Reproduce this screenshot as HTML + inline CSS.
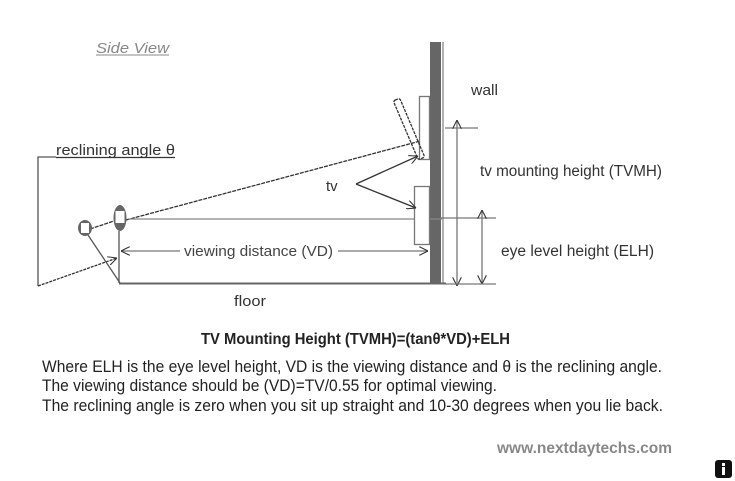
<!DOCTYPE html>
<html><head><meta charset="utf-8"><style>
html,body{margin:0;padding:0;background:#fff;}
svg{display:block;}
text{font-family:"Liberation Sans",sans-serif;}
</style></head><body>
<svg width="735" height="481" viewBox="0 0 735 481" xmlns="http://www.w3.org/2000/svg">
<defs>
<marker id="a" viewBox="0 0 10 10" refX="10" refY="5" markerWidth="9" markerHeight="9" orient="auto-start-reverse" markerUnits="userSpaceOnUse"><path d="M0,0 L10,5 L0,10" fill="none" stroke="#333" stroke-width="1.2"/></marker>
</defs>
<g stroke="#555" stroke-width="1.3" fill="none">
<rect x="430" y="42" width="11" height="242" fill="#666" stroke="none"/>
<line x1="443" y1="42" x2="443" y2="284" stroke="#888"/>
<line x1="119" y1="283.5" x2="446" y2="283.5" stroke="#666" stroke-width="2"/>
<polyline points="56,157 38,157 38,286"/>
<line x1="56" y1="157.5" x2="175" y2="157.5" stroke="#333" stroke-width="1.2"/>
<line x1="38" y1="286" x2="117" y2="258" stroke="#333" stroke-dasharray="3,1" marker-end="url(#a)"/>
<line x1="119" y1="231" x2="119" y2="283"/>
<line x1="88" y1="235" x2="120" y2="283"/>
<line x1="126" y1="220" x2="424" y2="140" stroke="#333" stroke-dasharray="4,1"/>
<line x1="90" y1="229" x2="114" y2="221" stroke="#333" stroke-dasharray="4,1"/>
<line x1="128" y1="219" x2="442" y2="219" stroke="#888"/>
<line x1="121" y1="251" x2="180" y2="251" stroke="#777" marker-start="url(#a)"/>
<line x1="338" y1="251" x2="428" y2="251" stroke="#777" marker-end="url(#a)"/>
<rect x="419.5" y="96.5" width="10" height="63" stroke="#777" fill="#fff"/>
<rect x="414.5" y="186.5" width="15" height="58" stroke="#777" fill="#fff"/>
<g transform="translate(409,129) rotate(-23)">
<rect x="-3.5" y="-32" width="7" height="64" rx="2" stroke="#333" stroke-dasharray="3,1" fill="none"/>
</g>
<line x1="356" y1="184" x2="418" y2="156" stroke="#333" marker-end="url(#a)"/>
<line x1="356" y1="184" x2="416" y2="208" stroke="#333" marker-end="url(#a)"/>
<line x1="445" y1="128" x2="478" y2="128" stroke="#777"/>
<line x1="457" y1="120" x2="457" y2="286" stroke="#777" marker-start="url(#a)" marker-end="url(#a)"/>
<line x1="440" y1="218" x2="496" y2="218" stroke="#777"/>
<line x1="482" y1="210" x2="482" y2="284" stroke="#777" marker-start="url(#a)" marker-end="url(#a)"/>
<line x1="446" y1="284" x2="496" y2="284" stroke="#777"/>
</g>
<ellipse cx="85" cy="228" rx="7" ry="8" fill="#666"/>
<rect x="80.5" y="222.5" width="9" height="11" fill="#fff" stroke="#666"/>
<ellipse cx="120" cy="218" rx="6.5" ry="13" fill="#666"/>
<rect x="115.5" y="211" width="9" height="12" fill="#fff"/>
<g lengthAdjust="spacingAndGlyphs">
<text x="96" y="53" font-size="15" font-style="italic" fill="#888" textLength="73" lengthAdjust="spacingAndGlyphs">Side View</text>
<line x1="96" y1="55" x2="169" y2="55" stroke="#888"/>
<text x="56" y="155" font-size="15" fill="#333" textLength="119" lengthAdjust="spacingAndGlyphs">reclining angle θ</text>
<text x="326" y="191" font-size="15" fill="#333">tv</text>
<text x="184" y="256" font-size="15" fill="#444" textLength="149" lengthAdjust="spacingAndGlyphs">viewing distance (VD)</text>
<text x="471" y="95" font-size="15" fill="#333" textLength="27" lengthAdjust="spacingAndGlyphs">wall</text>
<text x="480" y="176" font-size="15.5" fill="#333" textLength="182" lengthAdjust="spacingAndGlyphs">tv mounting height (TVMH)</text>
<text x="501" y="256" font-size="15.5" fill="#333" textLength="153" lengthAdjust="spacingAndGlyphs">eye level height (ELH)</text>
<text x="234" y="306" font-size="15" fill="#333" textLength="32" lengthAdjust="spacingAndGlyphs">floor</text>
<text x="201" y="344" font-size="15.5" font-weight="bold" fill="#222" textLength="309" lengthAdjust="spacingAndGlyphs">TV Mounting Height (TVMH)=(tanθ*VD)+ELH</text>
<text x="42" y="372" font-size="16.5" fill="#222" textLength="620" lengthAdjust="spacingAndGlyphs">Where ELH is the eye level height, VD is the viewing distance and θ is the reclining angle.</text>
<text x="42" y="391" font-size="16.5" fill="#222" textLength="455" lengthAdjust="spacingAndGlyphs">The viewing distance should be (VD)=TV/0.55 for optimal viewing.</text>
<text x="42" y="411" font-size="16.5" fill="#222" textLength="621" lengthAdjust="spacingAndGlyphs">The reclining angle is zero when you sit up straight and 10-30 degrees when you lie back.</text>
<text x="497" y="453" font-size="16" font-weight="bold" fill="#888" textLength="175" lengthAdjust="spacingAndGlyphs">www.nextdaytechs.com</text>
</g>
<rect x="715" y="460" width="17" height="18" rx="3" fill="#111"/>
<rect x="722" y="463" width="3" height="3" fill="#fff"/>
<rect x="722" y="467" width="3" height="8" fill="#fff"/>
</svg>
</body></html>
